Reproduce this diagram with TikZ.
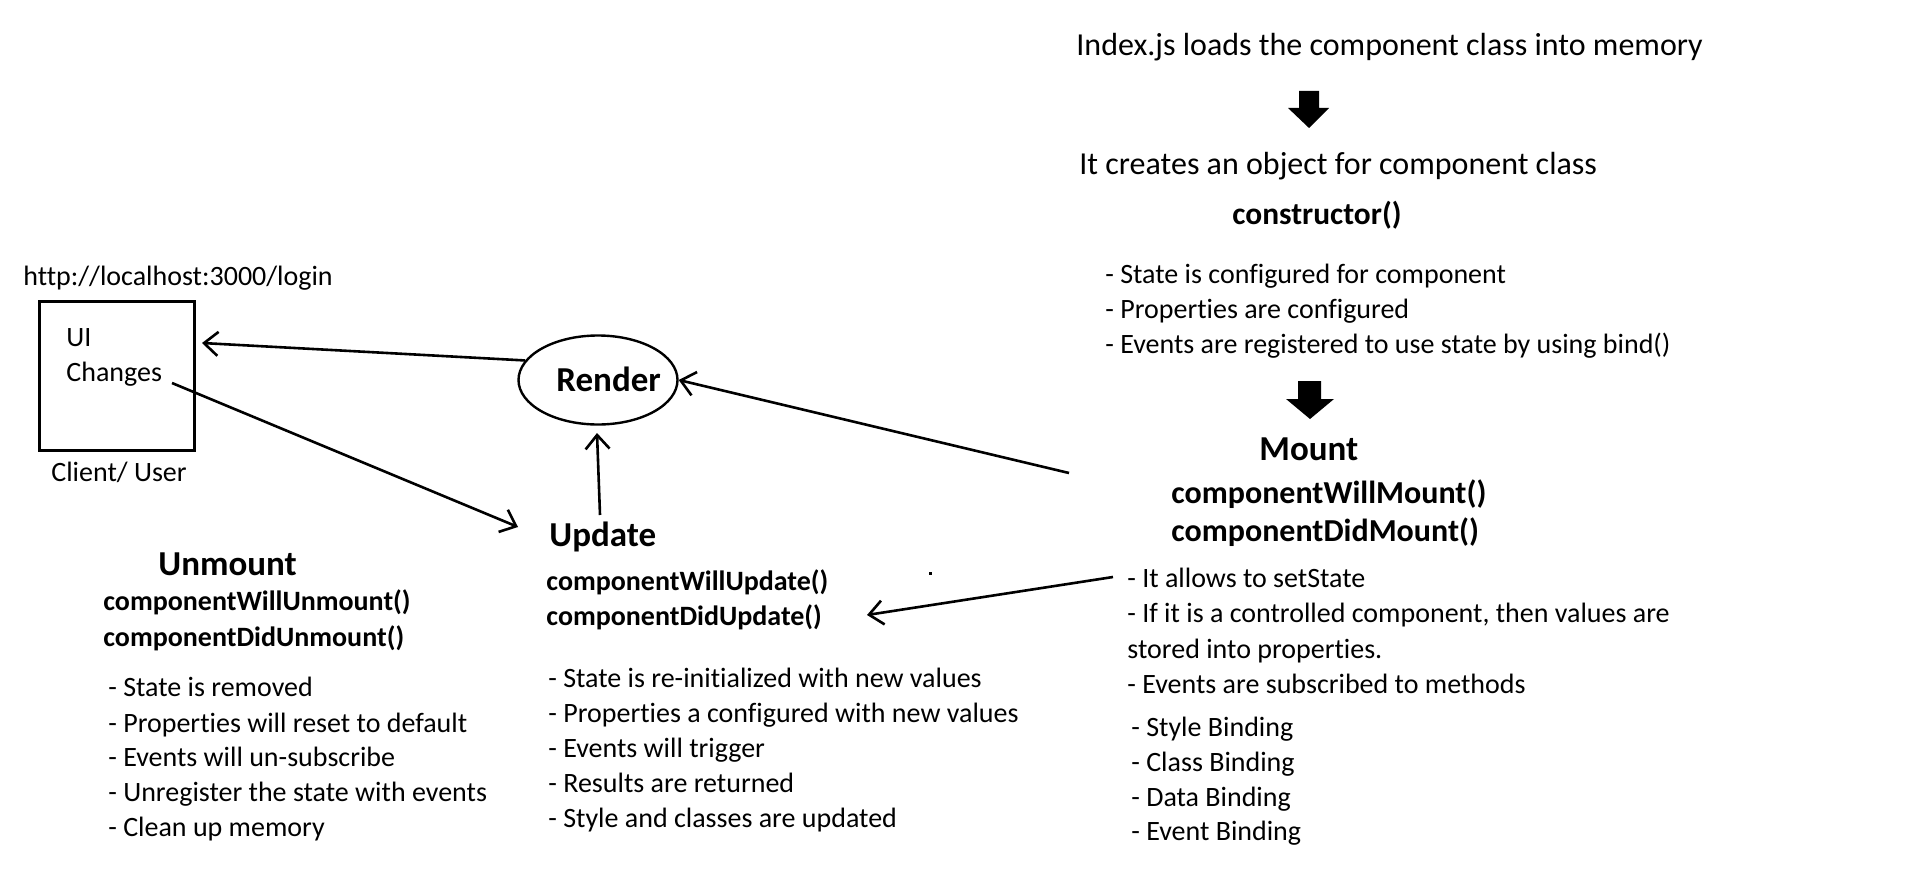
\documentclass[tikz,border=0pt]{standalone}
\usepackage{fontspec}
\setmainfont{Carlito}[Ligatures={NoCommon}]
\usetikzlibrary{arrows.meta,shapes.geometric}
\begin{document}
\begin{tikzpicture}[x=0.5pt,y=-0.5pt,
  txtbase/.style={inner sep=0pt,anchor=base west,yshift=-1.5pt},
  txt/.style={txtbase,font=\fontsize{14}{17}\selectfont},
  big/.style={txtbase,font=\fontsize{16}{19}\selectfont},
  headtxt/.style={txtbase,font=\fontsize{17.5}{21}\selectfont\bfseries},
  meth/.style={txtbase,font=\fontsize{14}{17}\selectfont\bfseries},
  methbig/.style={txtbase,font=\fontsize{16}{19}\selectfont\bfseries},
  conn/.style={line width=1.3pt,-{Straight Barb[length=7pt,width=12pt,line width=1.3pt]}},
  blockarrow/.style={fill=black}]
\useasboundingbox[fill=white] (0,0) rectangle (1914,882);

% ---------- top sequence ----------
\node[big] (idx) at (1076,53) {Index.js loads the component class into memory};
\fill[blockarrow] (1299,91) -- (1319,91) -- (1319,108) -- (1329,108) -- (1309,128) -- (1288,108) -- (1299,108) -- cycle;
\node[big] (creates) at (1079,172) {It creates an object for component class};
\node[txtbase,font=\fontsize{15.7}{19}\selectfont\bfseries] (ctor) at (1232,222) {constructor()};
\node[txt] (c1) at (1105,280) {- State is configured for component};
\node[txt] (c2) at (1105,315) {- Properties are configured};
\node[txt] (c3) at (1105,350) {- Events are registered to use state by using bind()};
\fill[blockarrow] (1298,381) -- (1321,381) -- (1321,399) -- (1334,399) -- (1310,419) -- (1286,399) -- (1298,399) -- cycle;

% ---------- Mount ----------
\node[headtxt] (mount) at (1259,457) {Mount};
\node[methbig] (mm1) at (1171,500) {componentWillMount()};
\node[methbig] (mm2) at (1171,538) {componentDidMount()};
\node[txt] (m1) at (1127,584) {- It allows to setState};
\node[txt] (m2) at (1127,619) {- If it is a controlled component, then values are};
\node[txt] (m3) at (1127,655) {stored into properties.};
\node[txt] (m4) at (1127,690) {- Events are subscribed to methods};
\node[txt] (b1) at (1131,733) {- Style Binding};
\node[txt] (b2) at (1131,768) {- Class Binding};
\node[txt] (b3) at (1131,803) {- Data Binding};
\node[txt] (b4) at (1131,837) {- Event Binding};

% ---------- client ----------
\node[txt] (url) at (23,282) {http://localhost:3000/login};
\node[draw,line width=1.5pt,rectangle,inner sep=0pt,minimum width=77.5pt,minimum height=74.5pt] (box) at (117,376) {};
\node[txt] (ui) at (66,343) {UI};
\node[txt] (changes) at (66,378) {Changes};
\node[txt] (client) at (51,478) {Client/ User};

% ---------- Render ----------
\node[draw,ellipse,line width=1.2pt,inner sep=0pt,minimum width=79.5pt,minimum height=44.5pt] (render) at (598,380) {};
\node[headtxt] (rendertxt) at (556,388) {Render};

% ---------- Update ----------
\node[headtxt] (update) at (549,543) {Update};
\node[meth] (um1) at (546,587) {componentWillUpdate()};
\node[meth] (um2) at (546,622) {componentDidUpdate()};
\node[txt] (u1) at (548,684) {- State is re-initialized with new values};
\node[txt] (u2) at (548,719) {- Properties a configured with new values};
\node[txt] (u3) at (548,754) {- Events will trigger};
\node[txt] (u4) at (548,789) {- Results are returned};
\node[txt] (u5) at (548,824) {- Style and classes are updated};

% ---------- Unmount ----------
\node[headtxt] (unmount) at (158,572) {Unmount};
\node[meth] (un1) at (103,607) {componentWillUnmount()};
\node[meth] (un2) at (103,643) {componentDidUnmount()};
\node[txt] (n1) at (108,693) {- State is removed};
\node[txt] (n2) at (108,729) {- Properties will reset to default};
\node[txt] (n3) at (108,763) {- Events will un-subscribe};
\node[txt] (n4) at (108,798) {- Unregister the state with events};
\node[txt] (n5) at (108,833) {- Clean up memory};

% stray dot
\fill (929,572) rectangle (932,575);

% ---------- connectors ----------
\coordinate (boxIn) at (202,343);
\coordinate (chOut) at (172,383);
\coordinate (updIn) at (518,527);
\coordinate (updOut) at (600,515);
\coordinate (renIn) at (597,433);
\coordinate (mountOut) at (1069,473);
\coordinate (listOut) at (1113,577);
\coordinate (umIn) at (867,615);

\draw[conn] (render.165) -- (boxIn);
\draw[conn] (chOut) -- (updIn);
\draw[conn] (updOut) -- (renIn);
\draw[conn] (mountOut) -- (render.east);
\draw[conn] (listOut) -- (umIn);
\end{tikzpicture}
\end{document}
